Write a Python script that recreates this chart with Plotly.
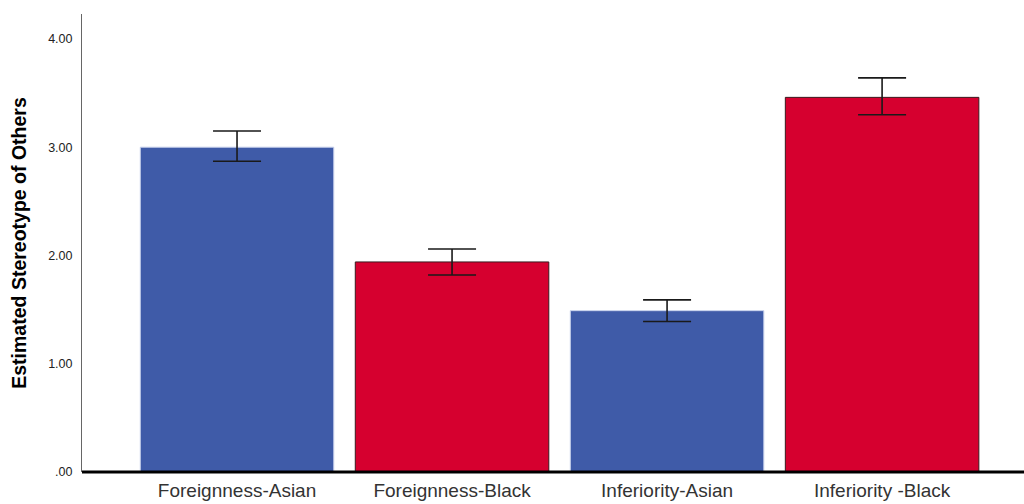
import plotly.graph_objects as go

# Category labels and estimated means with 95% CI bounds
categories = ["Foreignness-Asian", "Foreignness-Black", "Inferiority-Asian", "Inferiority -Black"]
means = [3.00, 1.94, 1.49, 3.46]
ci_upper = [3.15, 2.06, 1.59, 3.64]
ci_lower = [2.87, 1.82, 1.39, 3.30]
bar_colors = ["#3F5BA8", "#D6002F", "#3F5BA8", "#D6002F"]
edge_colors = ["#C9D2EC", "#3A1A1F", "#C9D2EC", "#3A1A1F"]

y_tick_vals = [0, 1, 2, 3, 4]
y_tick_text = [".00", "1.00", "2.00", "3.00", "4.00"]

err_plus = [u - m for u, m in zip(ci_upper, means)]
err_minus = [m - l for m, l in zip(means, ci_lower)]

fig = go.Figure(
    go.Bar(
        x=list(range(len(categories))),
        y=means,
        width=0.9,
        marker=dict(color=bar_colors, line=dict(color=edge_colors, width=1)),
        error_y=dict(
            type="data",
            symmetric=False,
            array=err_plus,
            arrayminus=err_minus,
            color="#1a1a1a",
            thickness=1.6,
            width=24,
        ),
        hoverinfo="skip",
    )
)

fig.update_layout(
    width=1024,
    height=504,
    margin=dict(l=82, r=0, t=14, b=32),
    paper_bgcolor="white",
    plot_bgcolor="white",
    showlegend=False,
    font=dict(family="Liberation Sans, Arial, sans-serif", color="#222222"),
    xaxis=dict(
        tickmode="array",
        tickvals=list(range(len(categories))),
        ticktext=categories,
        range=[-0.721, 3.660],
        showgrid=False,
        zeroline=False,
        showline=False,
        ticks="",
        tickfont=dict(size=19, color="#333333"),
        ticklabelstandoff=5,
    ),
    yaxis=dict(
        range=[0, 4.23],
        tickmode="array",
        tickvals=y_tick_vals,
        ticktext=y_tick_text,
        showgrid=False,
        zeroline=False,
        showline=True,
        linecolor="#666666",
        linewidth=1,
        ticks="",
        tickfont=dict(size=12.5, color="#222222"),
        ticklabelstandoff=6,
        title=dict(
            text="<b>Estimated Stereotype of Others</b>",
            font=dict(size=19.5, color="#000000"),
            standoff=16,
        ),
    ),
)

# Heavy baseline along the x axis
fig.add_shape(
    type="line",
    xref="paper",
    yref="paper",
    x0=0,
    x1=1,
    y0=0,
    y1=0,
    line=dict(color="#000000", width=3),
)

fig.write_html("out.html")
